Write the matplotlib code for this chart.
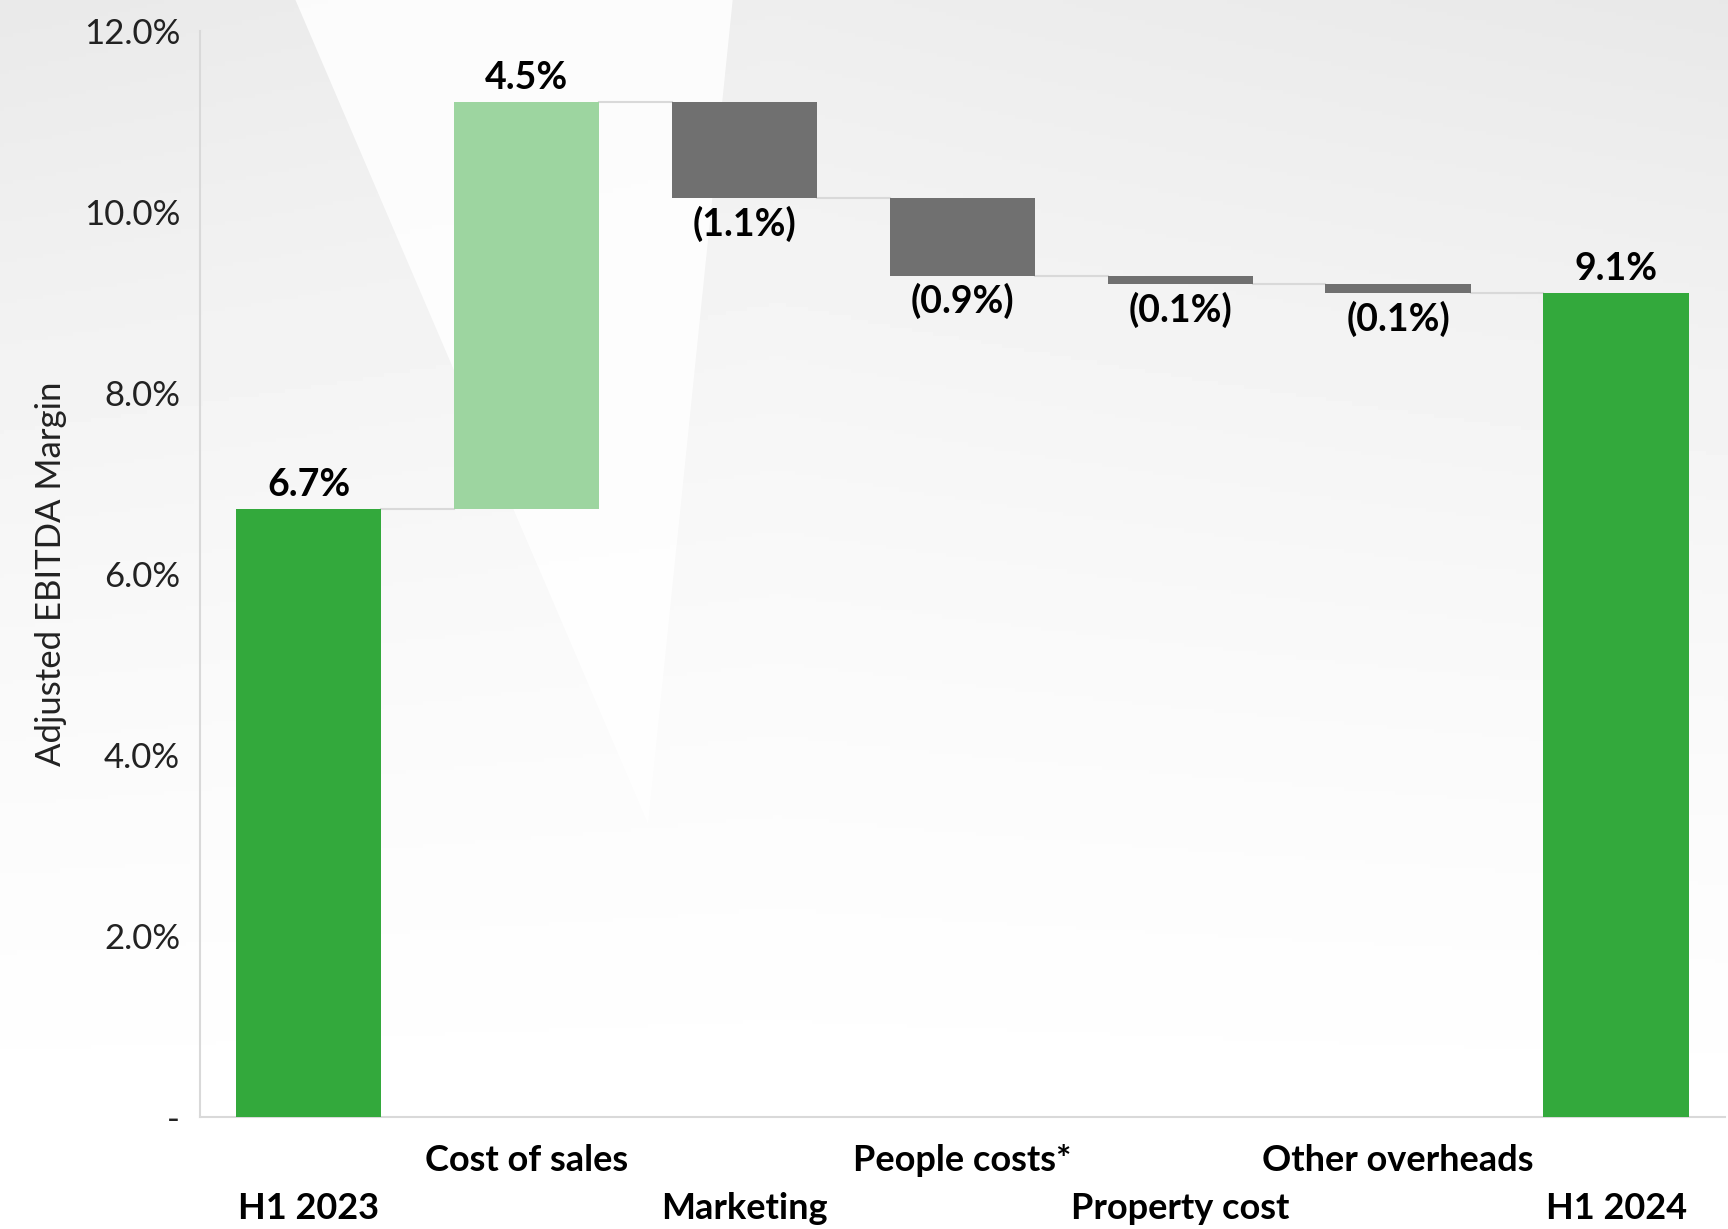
import numpy as np
import matplotlib
matplotlib.use("Agg")
import matplotlib.pyplot as plt
from matplotlib.patches import Polygon

# Waterfall data (Adjusted EBITDA margin, %)
categories = ["H1 2023", "Cost of sales", "Marketing", "People costs*",
              "Property cost", "Other overheads", "H1 2024"]
start_value = 6.72
changes = [4.50, -1.07, -0.86, -0.09, -0.10]
end_value = 9.10
value_labels = ["6.7%", "4.5%", "(1.1%)", "(0.9%)", "(0.1%)", "(0.1%)", "9.1%"]
y_ticks = [0, 2, 4, 6, 8, 10, 12]
y_tick_labels = ["-", "2.0%", "4.0%", "6.0%", "8.0%", "10.0%", "12.0%"]

DARK_GREEN = "#33a93c"
LIGHT_GREEN = "#9dd5a0"
GREY = "#707070"
LINE = "#d9d9d9"

plt.rcParams["font.family"] = ["Lato", "DejaVu Sans"]

fig = plt.figure(figsize=(17.28, 12.29), dpi=100)

# soft grey background with a white wedge
bg = fig.add_axes([0, 0, 1, 1], zorder=-10)
yy, xx = np.mgrid[0:1:300j, 0:1:400j]
shade = 1 - 0.09 * (1 - yy) ** 1.6 * (0.75 + 0.25 * np.abs(xx - 0.45) / 0.55)
bg.imshow(shade, cmap="gray", vmin=0, vmax=1, extent=[0, 1, 0, 1],
          aspect="auto", origin="upper")
bg.add_patch(Polygon([(0.171, 1.0), (0.424, 1.0), (0.375, 0.33)],
                     closed=True, color="white", alpha=0.85, lw=0))
bg.set_xlim(0, 1)
bg.set_ylim(0, 1)
bg.axis("off")

ax = fig.add_axes([0.1155, 0.0911, 0.8828, 0.8837])
ax.patch.set_alpha(0)

levels = np.cumsum([start_value] + changes)
n = len(categories)
x = np.arange(n)
width = 0.667

bottoms = [0]
heights = [start_value]
colors = [DARK_GREEN]
for i, c in enumerate(changes):
    prev = levels[i]
    bottoms.append(min(prev, prev + c))
    heights.append(abs(c))
    colors.append(LIGHT_GREEN if c > 0 else GREY)
bottoms.append(0)
heights.append(end_value)
colors.append(DARK_GREEN)

ax.bar(x, heights, bottom=bottoms, width=width, color=colors, zorder=3)

# connectors between bars
for i in range(n - 1):
    lvl = levels[i] if i < len(levels) else end_value
    ax.plot([x[i] + width / 2, x[i + 1] - width / 2], [lvl, lvl],
            color=LINE, lw=1.5, zorder=2)

# value labels
for i in range(n):
    top = bottoms[i] + heights[i]
    if i in (0, n - 1) or changes[i - 1] > 0:
        ax.annotate(value_labels[i], (x[i], top), xytext=(0, 5),
                    textcoords="offset points", ha="center", va="bottom",
                    fontsize=27, fontweight="bold", color="black")
    else:
        ax.annotate(value_labels[i], (x[i], bottoms[i]), xytext=(0, -5),
                    textcoords="offset points", ha="center", va="top",
                    fontsize=27, fontweight="bold", color="black")

# staggered category labels
for i, cat in enumerate(categories):
    ypos = -0.0838 if i % 2 == 0 else -0.0396
    ax.text(x[i], ypos, cat, transform=ax.get_xaxis_transform(),
            ha="center", va="center", fontsize=26, fontweight="bold")

ax.set_xlim(-0.5, n - 0.5)
ax.set_ylim(0, 12)
ax.set_xticks([])
ax.set_yticks(y_ticks)
ax.set_yticklabels(y_tick_labels, fontsize=25, color="#222222")
ax.tick_params(axis="y", length=0, pad=14)
for s in ["top", "right"]:
    ax.spines[s].set_visible(False)
for s in ["left", "bottom"]:
    ax.spines[s].set_color(LINE)
    ax.spines[s].set_linewidth(1.5)
ax.set_ylabel("Adjusted EBITDA Margin", fontsize=25, color="#222222", labelpad=12)

fig.savefig("out.png", dpi=100)
